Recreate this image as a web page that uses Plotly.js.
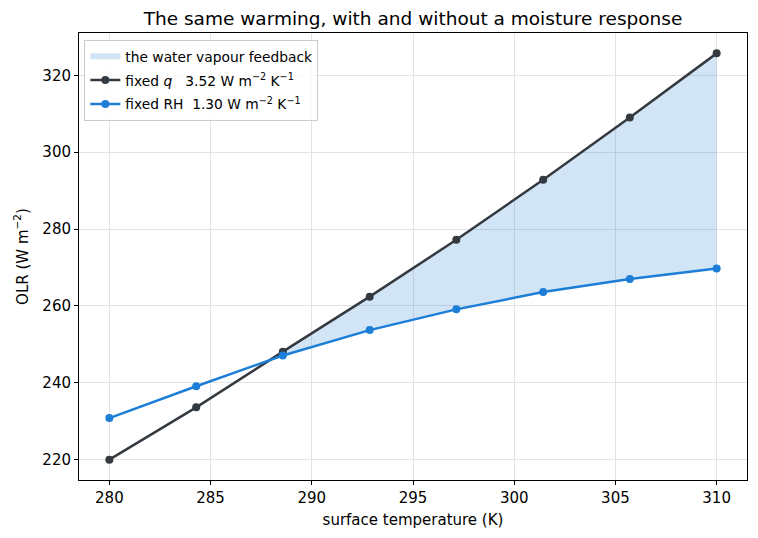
<!DOCTYPE html>
<html>
<head>
<meta charset="utf-8">
<script src="https://cdn.plot.ly/plotly-3.0.1.min.js"></script>
<style>
  html, body { margin: 0; padding: 0; background: #ffffff; }
  #chart { width: 758px; height: 538px; }
</style>
</head>
<body>
<div id="chart"></div>
<script>
// Surface temperature (K) and outgoing longwave radiation (W m-2).
const tempK = [280.0, 284.29, 288.57, 292.86, 297.14, 301.43, 305.71, 310.0];
const olrFixedQ = [220.0, 233.6, 248.1, 262.4, 277.2, 292.8, 309.0, 325.7];
const olrFixedRH = [230.8, 239.1, 247.1, 253.7, 259.1, 263.6, 267.0, 269.7];

const dark = '#343a40';
const blue = '#1c7ed6';
const font = 'DejaVu Sans, sans-serif';

// Shade only where fixed q radiates more than fixed RH.
const shadeX = [], shadeTop = [], shadeBottom = [];
tempK.forEach((t, i) => {
    if (olrFixedQ[i] >= olrFixedRH[i]) {
        shadeX.push(t);
        shadeTop.push(olrFixedQ[i]);
        shadeBottom.push(olrFixedRH[i]);
    }
});

const traces = [
    {
        x: shadeX.concat(shadeX.slice().reverse()),
        y: shadeTop.concat(shadeBottom.slice().reverse()),
        type: 'scatter',
        mode: 'none',
        fill: 'toself',
        fillcolor: 'rgba(28,126,214,0.2)',
        name: 'the water vapour feedback',
        legendgroup: 'shade',
        hoverinfo: 'skip'
    },
    {
        x: tempK,
        y: olrFixedQ,
        type: 'scatter',
        mode: 'lines+markers',
        line: { color: dark, width: 2.5 },
        marker: { color: dark, size: 8 },
        legendgroup: 'q',
        name: 'fixed <i>q</i>   3.52 W m<sup>\u22122</sup> K<sup>\u22121</sup>'
    },
    {
        x: tempK,
        y: olrFixedRH,
        type: 'scatter',
        mode: 'lines+markers',
        line: { color: blue, width: 2.5 },
        marker: { color: blue, size: 8 },
        legendgroup: 'rh',
        name: 'fixed RH  1.30 W m<sup>\u22122</sup> K<sup>\u22121</sup>'
    }
];

const axisStyle = {
    showline: true, mirror: true, linecolor: '#000000', linewidth: 1,
    ticks: 'outside', ticklen: 4, tickcolor: '#000000',
    gridcolor: '#e3e3e3', zeroline: false,
    tickfont: { family: font, size: 15, color: '#000000' }
};

Plotly.newPlot('chart', traces, {
    width: 758,
    height: 538,
    paper_bgcolor: '#ffffff',
    plot_bgcolor: '#ffffff',
    margin: { l: 79, r: 11, t: 33, b: 58 },
    font: { family: font, color: '#000000' },
    title: {
        text: 'The same warming, with and without a moisture response',
        font: { family: font, size: 18.5 },
        xref: 'paper', x: 0.5, xanchor: 'center',
        yref: 'container', y: 0.965, yanchor: 'middle'
    },
    xaxis: Object.assign({}, axisStyle, {
        range: [278.5, 311.5],
        tickvals: [280, 285, 290, 295, 300, 305, 310],
        title: { text: 'surface temperature (K)', font: { family: font, size: 15 }, standoff: 8 }
    }),
    yaxis: Object.assign({}, axisStyle, {
        range: [214.7, 331.0],
        tickvals: [220, 240, 260, 280, 300, 320],
        title: { text: 'OLR (W m<sup>\u22122</sup>)', font: { family: font, size: 15 }, standoff: 10 }
    }),
    showlegend: true,
    legend: {
        x: 0.008, y: 0.985, xanchor: 'left', yanchor: 'top',
        traceorder: 'grouped', tracegroupgap: 3,
        bgcolor: 'rgba(255,255,255,0.8)', bordercolor: '#cccccc', borderwidth: 1,
        font: { family: font, size: 13.8, color: '#000000' }
    }
}, { displayModeBar: false, staticPlot: true });
</script>
</body>
</html>
